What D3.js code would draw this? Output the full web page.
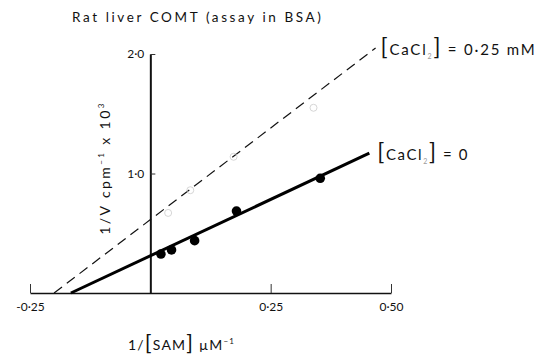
<!DOCTYPE html>
<html>
<head>
<meta charset="utf-8">
<script src="https://cdn.jsdelivr.net/npm/d3@7"></script>
<style>
  body { margin: 0; background: #fff; }
  text { font-family: Lato, "DejaVu Sans", sans-serif; fill: #111; }
</style>
</head>
<body>
<div id="chart"></div>
<script>
// values
var xTicks = [-0.25, 0.25, 0.50]
var xTickLabels = ["-0·25", "0·25", "0·50"]
var yTicks = [1.0, 2.0]
var yTickLabels = ["1·0", "2·0"]

// [CaCl2] = 0 (filled points + fitted line)
var sam0 = [0.022, 0.044, 0.092, 0.179, 0.353]
var v0 = [0.326, 0.360, 0.438, 0.686, 0.960]
var fit0X = [-0.165, 0.455]
var fit0Y = [0, 1.17]

// [CaCl2] = 0.25 mM (faint open points + dashed line)
var sam25 = [0.037, 0.083, 0.173, 0.339]
var v25 = [0.67, 0.86, 1.14, 1.55]
var fit25X = [-0.20, 0.468]
var fit25Y = [0, 2.05]

var margin = {top: 54, right: 150, bottom: 61, left: 30},
    width = 541 - margin.left - margin.right,
    height = 354 - margin.top - margin.bottom;

var svg = d3.select("#chart")
  .append("svg")
    .attr("width", 541)
    .attr("height", 354)
  .append("g")
    .attr("transform", "translate(" + margin.left + "," + margin.top + ")");

var x = d3.scaleLinear()
    .domain([-0.25, 0.5])
    .range([0, width]);

var y = d3.scaleLinear()
    .domain([0, 2])
    .range([height, 0]);

// x axis, ticks pointing up
var xAxis = svg.append("g")
    .attr("transform", "translate(0," + height + ")")
    .call(d3.axisBottom(x)
      .tickValues(xTicks)
      .tickFormat(function(d, i) { return xTickLabels[i]; })
      .tickSizeInner(-9)
      .tickSizeOuter(0)
      .tickPadding(9));
xAxis.select(".domain").attr("stroke", "#111").attr("stroke-width", 1.6);
xAxis.selectAll(".tick line").attr("stroke", "#333").attr("stroke-width", 1);
xAxis.selectAll(".tick text").style("font-size", "12px").attr("fill", "#222");

// y axis at x = 0, ticks pointing right
var yAxis = svg.append("g")
    .attr("transform", "translate(" + x(0) + ",0)")
    .call(d3.axisLeft(y)
      .tickValues(yTicks)
      .tickFormat(function(d, i) { return yTickLabels[i]; })
      .tickSizeInner(-5)
      .tickSizeOuter(0)
      .tickPadding(6));
yAxis.select(".domain").attr("stroke", "#111").attr("stroke-width", 2);
yAxis.selectAll(".tick line").attr("stroke", "#333").attr("stroke-width", 1);
yAxis.selectAll(".tick text").style("font-size", "12px").attr("fill", "#222");

var line = d3.line()
    .x(function(d) { return x(d[0]); })
    .y(function(d) { return y(d[1]); });

// dashed line for 0.25 mM
svg.append("path")
    .datum(d3.zip(fit25X, fit25Y))
    .attr("d", line)
    .attr("fill", "none")
    .attr("stroke", "#111")
    .attr("stroke-width", 1.2)
    .attr("stroke-dasharray", "10,6");

svg.selectAll("openPt")
    .data(d3.zip(sam25, v25))
    .enter()
    .append("circle")
    .attr("cx", function(d) { return x(d[0]); })
    .attr("cy", function(d) { return y(d[1]); })
    .attr("r", 3.5)
    .attr("fill", "none")
    .attr("stroke", "#ccc")
    .attr("stroke-width", 0.8);

// solid line for 0
svg.append("path")
    .datum(d3.zip(fit0X, fit0Y))
    .attr("d", line)
    .attr("fill", "none")
    .attr("stroke", "#000")
    .attr("stroke-width", 3);

svg.selectAll("fillPt")
    .data(d3.zip(sam0, v0))
    .enter()
    .append("circle")
    .attr("cx", function(d) { return x(d[0]); })
    .attr("cy", function(d) { return y(d[1]); })
    .attr("r", 4.8)
    .attr("fill", "#000");

// legend labels at the line ends
function cacl(g, xx, yy, rest, sp) {
  var t = g.append("text")
      .attr("x", xx)
      .attr("y", yy)
      .style("font-size", "15px")
      .style("letter-spacing", sp + "px");
  t.append("tspan").text("[").style("font-size", "23px").attr("fill", "#111");
  t.append("tspan").text("CaCl");
  t.append("tspan").text("2").attr("dy", 4).style("font-size", "7px").attr("fill", "#999");
  t.append("tspan").text("]").attr("dy", -4).style("font-size", "23px").attr("fill", "#111");
  t.append("tspan").text(rest);
}
cacl(svg, x(fit25X[1]) + 5, y(fit25Y[1]) + 7, " =  0·25 mM", 1.8);
cacl(svg, x(fit0X[1]) + 8, y(fit0Y[1]) + 7, " = 0", 1.6);

// title
svg.append("text")
    .attr("x", 72 - margin.left)
    .attr("y", 22 - margin.top)
    .style("font-size", "13.5px")
    .style("letter-spacing", "2.6px")
    .text("Rat liver COMT (assay in BSA)");

// x axis title
var xt = svg.append("text")
    .attr("x", 128 - margin.left)
    .attr("y", height + 57)
    .style("font-size", "14px")
    .style("letter-spacing", "1.2px");
xt.append("tspan").text("1/");
xt.append("tspan").text("[").style("font-size", "22px").attr("fill", "#111");
xt.append("tspan").text("SAM");
xt.append("tspan").text("]").style("font-size", "22px").attr("fill", "#111");
xt.append("tspan").text(" µM");
xt.append("tspan").text("−1").attr("dy", -6).style("font-size", "8px");

// y axis title
var yt = svg.append("text")
    .attr("transform", "translate(" + (110 - margin.left) + "," + (168 - margin.top) + ")rotate(-90)")
    .attr("text-anchor", "middle")
    .style("font-size", "14px")
    .style("letter-spacing", "2.4px");
yt.append("tspan").text("1/V cpm");
yt.append("tspan").text("−1").attr("dy", -6).style("font-size", "8px");
yt.append("tspan").text(" x 10").attr("dy", 6);
yt.append("tspan").text("3").attr("dy", -6).style("font-size", "8px");
</script>
</body>
</html>
